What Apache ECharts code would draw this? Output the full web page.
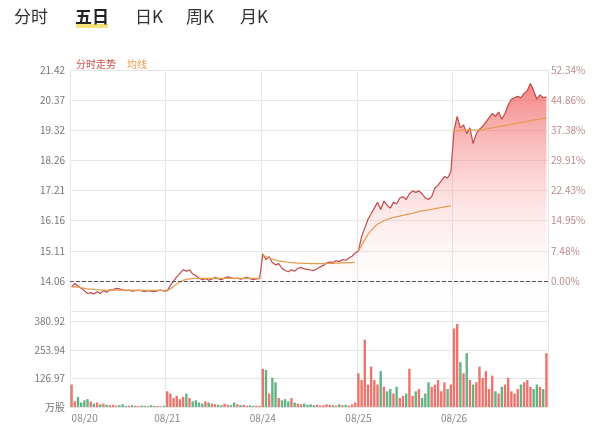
<!DOCTYPE html>
<html>
<head>
<meta charset="utf-8">
<script src="https://cdn.jsdelivr.net/npm/echarts@6/dist/echarts.min.js"></script>
<style>
html, body { margin: 0; padding: 0; background: #fff; }
#main { width: 600px; height: 432px; }
</style>
</head>
<body>
<div id="main"></div>
<script>
var prevClose = 14.06;
var days = ['08/20', '08/21', '08/24', '08/25', '08/26'];
var pctLabels = ['', '0.00%', '7.48%', '14.95%', '22.43%', '29.91%', '37.38%', '44.86%', '52.34%'];
var priceLabels = ['', '14.06', '15.11', '16.16', '17.21', '18.26', '19.32', '20.37', '21.42'];
var volLabels = ['万股', '126.97', '253.94', '380.92'];

// 30 samples per day
var price0820 = [13.85,13.97,13.88,13.80,13.72,13.62,13.65,13.60,13.68,13.62,13.72,13.66,13.74,13.76,13.80,13.78,13.75,13.72,13.74,13.70,13.72,13.74,13.71,13.69,13.72,13.70,13.68,13.72,13.74,13.70];
var price0821 = [13.72,13.90,14.05,14.20,14.32,14.45,14.40,14.44,14.30,14.25,14.16,14.10,14.14,14.08,14.12,14.18,14.14,14.10,14.16,14.20,14.17,14.14,14.16,14.12,14.15,14.18,14.14,14.10,14.13,14.14];
var price0824 = [15.00,14.80,14.90,14.70,14.62,14.66,14.50,14.42,14.38,14.45,14.40,14.50,14.52,14.48,14.46,14.44,14.42,14.48,14.55,14.60,14.68,14.72,14.70,14.76,14.74,14.80,14.78,14.86,14.92,15.03];
var price0825 = [15.10,15.60,15.90,16.20,16.40,16.60,16.80,16.55,16.85,16.70,16.60,16.80,16.75,16.95,17.00,16.90,17.10,17.20,17.15,17.20,17.10,16.95,16.90,17.00,17.30,17.40,17.55,17.70,17.65,17.86];
var price0826 = [19.30,19.80,19.40,19.50,19.20,19.40,18.85,19.20,19.35,19.45,19.60,19.75,19.90,19.80,19.95,19.70,19.90,20.20,20.40,20.45,20.50,20.45,20.60,20.70,20.95,20.70,20.40,20.55,20.45,20.48];

var avg0820 = [13.85,13.86,13.84,13.82,13.80,13.78,13.77,13.76,13.75,13.75,13.74,13.74,13.74,13.74,13.74,13.74,13.74,13.74,13.74,13.74,13.73,13.73,13.73,13.73,13.73,13.73,13.73,13.73,13.73,13.73];
var avg0821 = [13.72,13.78,13.86,13.95,14.02,14.08,14.11,14.13,14.14,14.15,14.15,14.15,14.15,14.15,14.15,14.15,14.15,14.15,14.15,14.15,14.15,14.15,14.15,14.15,14.15,14.15,14.15,14.15,14.15,14.15];
var avg0824 = [14.95,14.90,14.86,14.82,14.79,14.76,14.74,14.72,14.71,14.70,14.69,14.68,14.68,14.67,14.67,14.66,14.66,14.66,14.66,14.66,14.67,14.67,14.67,14.68,14.68,14.69,14.69,14.70,14.70,14.71];
var avg0825 = [15.10,15.30,15.50,15.68,15.82,15.94,16.04,16.10,16.16,16.20,16.24,16.27,16.30,16.32,16.35,16.37,16.40,16.42,16.45,16.48,16.50,16.52,16.54,16.56,16.58,16.60,16.62,16.64,16.66,16.68];
var avg0826 = [19.30,19.30,19.32,19.33,19.33,19.34,19.32,19.32,19.33,19.34,19.36,19.38,19.40,19.42,19.44,19.46,19.48,19.50,19.52,19.54,19.56,19.58,19.60,19.62,19.65,19.67,19.69,19.71,19.72,19.74];

var vol0820 = [100,25,45,20,30,35,25,15,20,12,15,10,8,10,6,8,12,5,6,8,5,4,6,5,4,8,5,4,3,6];
var vol0821 = [70,60,40,50,35,45,60,40,25,30,20,15,25,20,15,12,10,8,15,10,8,20,12,8,10,6,8,5,6,5];
var vol0824 = [170,165,60,130,110,40,30,35,25,40,20,15,12,15,10,12,8,10,6,8,12,10,8,6,12,8,10,6,12,20];
var vol0825 = [150,120,300,100,180,120,100,160,90,70,80,60,90,40,50,60,170,50,70,80,40,60,110,90,100,120,70,110,80,100];
var vol0826 = [350,370,200,150,240,120,100,110,180,130,160,80,140,70,60,90,100,130,70,60,80,100,110,120,90,80,100,90,80,240];

var PER = 30;
var prices = [].concat(price0820, price0821, price0824, price0825, price0826);
var avgs = [avg0820, avg0821, avg0824, avg0825, avg0826];
var vols = [].concat(vol0820, vol0821, vol0824, vol0825, vol0826);

function toPct(p) { return (p / prevClose - 1) * 100; }

var cats = [];
for (var i = 0; i < prices.length; i++) cats.push(days[Math.floor(i / PER)]);

var pctStep = 7.477;
function labelAt(list) {
    return function (v) {
        var k = Math.round((v + pctStep) / pctStep);
        return list[k] || '';
    };
}

var series = [{
    name: '分时走势',
    type: 'line',
    data: prices.map(toPct),
    showSymbol: false,
    lineStyle: { color: '#c24a47', width: 1.2 },
    itemStyle: { color: '#c24a47' },
    areaStyle: {
        origin: 'start',
        color: new echarts.graphic.LinearGradient(0, 0, 0, 1, [
            { offset: 0, color: 'rgba(240,70,70,0.95)' },
            { offset: 1, color: 'rgba(255,255,255,0)' }
        ])
    },
    markLine: {
        silent: true, symbol: 'none', label: { show: false },
        lineStyle: { color: '#555', type: 'dashed', width: 1 },
        data: [{ yAxis: 0 }]
    }
}];
avgs.forEach(function (d, k) {
    var arr = [];
    for (var i = 0; i < prices.length; i++) {
        var j = i - k * PER;
        arr.push(j >= 0 && j < PER ? toPct(d[j]) : '-');
    }
    series.push({
        name: '均线', type: 'line', data: arr, showSymbol: false,
        lineStyle: { color: '#e69a4c', width: 1.2 }, itemStyle: { color: '#e69a4c' }
    });
});
series.push({
    name: 'vol', type: 'bar', xAxisIndex: 1, yAxisIndex: 2, barCategoryGap: '25%',
    data: vols.map(function (v, i) {
        var up = i === 0 || prices[i] >= prices[i - 1];
        return { value: v, itemStyle: { color: up ? 'rgba(232,92,84,0.85)' : 'rgba(70,165,110,0.85)' } };
    })
});

var splitX = { show: true, interval: function (i) { return i % PER === 0; }, lineStyle: { color: '#e6e6e6' } };

var option = {
    animation: false,
    textStyle: { fontFamily: 'Noto Sans CJK SC' },
    legend: {
        left: 66, top: 52, icon: 'none', itemGap: 6, itemWidth: 0,
        data: [
            { name: '分时走势', textStyle: { color: '#c9504c', fontSize: 10 } },
            { name: '均线', textStyle: { color: '#e69a4c', fontSize: 10 } }
        ]
    },
    graphic: [
        { type: 'text', left: 14, top: 8, style: { text: '分时', font: '17px "Noto Sans CJK SC"', fill: '#333' } },
        { type: 'rect', left: 76, top: 24, shape: { width: 32, height: 4 }, style: { fill: '#f5e27a' } },
        { type: 'text', left: 75, top: 8, style: { text: '五日', font: 'bold 17px "Noto Sans CJK SC"', fill: '#222' } },
        { type: 'text', left: 135, top: 8, style: { text: '日K', font: '17px "Noto Sans CJK SC"', fill: '#333' } },
        { type: 'text', left: 186, top: 8, style: { text: '周K', font: '17px "Noto Sans CJK SC"', fill: '#333' } },
        { type: 'text', left: 240, top: 8, style: { text: '月K', font: '17px "Noto Sans CJK SC"', fill: '#333' } }
    ],
    grid: [
        { left: 70, right: 52, top: 70, height: 241 },
        { left: 70, right: 52, top: 311, bottom: 25 }
    ],
    xAxis: [
        { type: 'category', data: cats, gridIndex: 0, boundaryGap: true,
          axisLine: { show: false }, axisTick: { show: false }, axisLabel: { show: false }, splitLine: splitX },
        { type: 'category', data: cats, gridIndex: 1, boundaryGap: true,
          axisLine: { show: false }, axisTick: { show: false }, splitLine: splitX,
          axisLabel: { interval: function (i) { return i % PER === 0; }, color: '#888', fontSize: 10, margin: 6, alignMinLabel: 'left' } }
    ],
    yAxis: [
        { type: 'value', gridIndex: 0, min: -pctStep, max: pctStep * 7, interval: pctStep,
          axisLine: { show: true, lineStyle: { color: '#e6e6e6' } }, axisTick: { show: false },
          splitLine: { lineStyle: { color: '#e6e6e6' } },
          axisLabel: { formatter: labelAt(priceLabels), color: '#777', fontSize: 10, margin: 5 } },
        { type: 'value', gridIndex: 0, position: 'right', min: -pctStep, max: pctStep * 7, interval: pctStep,
          axisLine: { show: true, lineStyle: { color: '#e6e6e6' } }, axisTick: { show: false }, splitLine: { show: false },
          axisLabel: { formatter: labelAt(pctLabels), color: '#b98a8a', fontSize: 10, margin: 3 } },
        { type: 'value', gridIndex: 1, min: 0, max: 427.7, interval: 126.97,
          axisLine: { show: true, lineStyle: { color: '#e6e6e6' } }, axisTick: { show: false },
          splitLine: { lineStyle: { color: '#e6e6e6' } },
          axisLabel: { showMaxLabel: false, color: '#777', fontSize: 10, margin: 5,
              formatter: function (v) { return volLabels[Math.round(v / 126.97)] || ''; } } }
    ],
    series: series
};
// right border line of volume grid
option.yAxis.push({ type: 'value', gridIndex: 1, position: 'right', min: 0, max: 427.7, interval: 126.97,
    axisLine: { show: true, lineStyle: { color: '#e6e6e6' } }, axisTick: { show: false },
    axisLabel: { show: false }, splitLine: { show: false } });

var myChart = echarts.init(document.getElementById('main'));
myChart.setOption(option);
</script>
</body>
</html>
